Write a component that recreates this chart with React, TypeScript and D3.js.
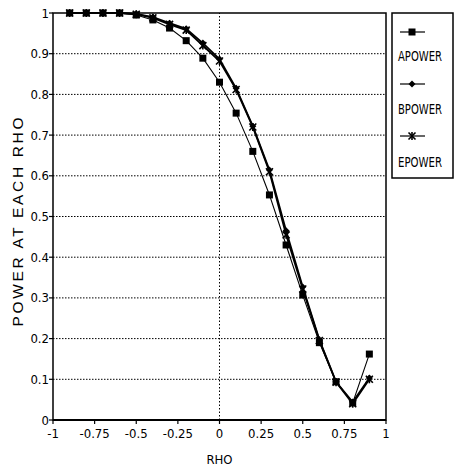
import React from 'react';
import * as d3 from 'd3';

const rho = [-0.9, -0.8, -0.7, -0.6, -0.5, -0.4, -0.3, -0.2, -0.1, 0, 0.1, 0.2, 0.3, 0.4, 0.5, 0.6, 0.7, 0.8, 0.9];
const apower = [1, 1, 1, 1, 0.995, 0.983, 0.963, 0.932, 0.889, 0.83, 0.754, 0.66, 0.553, 0.43, 0.307, 0.19, 0.094, 0.042, 0.162];
const bpower = [1, 1, 1, 1, 0.998, 0.99, 0.975, 0.961, 0.926, 0.887, 0.815, 0.722, 0.614, 0.465, 0.327, 0.197, 0.094, 0.044, 0.103];
const epower = [1, 1, 1, 1, 0.997, 0.988, 0.972, 0.958, 0.92, 0.882, 0.812, 0.72, 0.61, 0.455, 0.322, 0.195, 0.093, 0.04, 0.1];
const xTicks = [-1, -0.75, -0.5, -0.25, 0, 0.25, 0.5, 0.75, 1];
const yTicks = [0, 0.1, 0.2, 0.3, 0.4, 0.5, 0.6, 0.7, 0.8, 0.9, 1];

const font = '"DejaVu Sans Condensed", "Liberation Sans Narrow", "Liberation Sans", Arial, sans-serif';

const Marker = ({ kind, x, y }: { kind: string; x: number; y: number }) => {
  if (kind === 'square') return <rect x={x - 3.5} y={y - 3.5} width={7} height={7} fill="#000" />;
  if (kind === 'diamond')
    return <path d={`M${x},${y - 3.5}L${x + 3.5},${y}L${x},${y + 3.5}L${x - 3.5},${y}Z`} fill="#000" />;
  return (
    <g stroke="#000" strokeWidth={1.6}>
      <line x1={x - 3.5} y1={y - 3.5} x2={x + 3.5} y2={y + 3.5} />
      <line x1={x - 3.5} y1={y + 3.5} x2={x + 3.5} y2={y - 3.5} />
      <line x1={x} y1={y - 4} x2={x} y2={y + 4} />
    </g>
  );
};

const series = [
  { name: 'APOWER', values: apower, kind: 'square', width: 1.1 },
  { name: 'BPOWER', values: bpower, kind: 'diamond', width: 1.8 },
  { name: 'EPOWER', values: epower, kind: 'star', width: 1.8 },
];

export default function App() {
  const x = d3.scaleLinear().domain([-1, 1]).range([53, 386]);
  const y = d3.scaleLinear().domain([0, 1]).range([420, 13]);
  const line = d3
    .line<number>()
    .x((_, i) => x(rho[i]))
    .y((d) => y(d));
  const yFmt = (v: number) => (v === 0 || v === 1 ? String(v) : d3.format('.1f')(v));

  return (
    <svg width={456} height={471} style={{ position: 'absolute', left: 0, top: 0, background: '#fff' }}>
      {yTicks.slice(1, -1).map((t) => (
        <line key={t} x1={x(-1)} x2={x(1)} y1={y(t)} y2={y(t)} stroke="#000" strokeWidth={1} strokeDasharray="1.5,1.5" />
      ))}
      <line x1={x(0)} x2={x(0)} y1={y(0)} y2={y(1)} stroke="#000" strokeWidth={1} strokeDasharray="1.5,2" />
      <rect x={x(-1)} y={y(1)} width={x(1) - x(-1)} height={y(0) - y(1)} fill="none" stroke="#000" strokeWidth={1.5} />
      <line x1={x(-1)} x2={x(1)} y1={y(0)} y2={y(0)} stroke="#000" strokeWidth={2} />
      {yTicks.map((t) => (
        <g key={t}>
          <line x1={x(-1) - 4} x2={x(-1)} y1={y(t)} y2={y(t)} stroke="#000" strokeWidth={1.2} />
          <text x={x(-1) - 4} y={y(t) + 4.5} textAnchor="end" fontFamily={font} fontSize={13} fill="#000">
            {yFmt(t)}
          </text>
        </g>
      ))}
      {xTicks.map((t) => (
        <g key={t}>
          <line x1={x(t)} x2={x(t)} y1={y(0)} y2={y(0) + 4} stroke="#000" strokeWidth={1.2} />
          <text x={x(t)} y={y(0) + 18} textAnchor="middle" fontFamily={font} fontSize={13} fill="#000">
            {t}
          </text>
        </g>
      ))}
      <text x={x(0)} y={464} textAnchor="middle" fontFamily={font} fontSize={13} fill="#000">
        RHO
      </text>
      <text
        transform={`translate(23,${222}) rotate(-90)`}
        textAnchor="middle"
        fontFamily={'"Liberation Sans", Arial, sans-serif'}
        fontSize={15.5}
        textLength={209}
        lengthAdjust="spacing"
        fill="#000"
      >
        POWER AT EACH RHO
      </text>
      {series.map((s) => (
        <g key={s.name}>
          <path d={line(s.values) || ''} fill="none" stroke="#000" strokeWidth={s.width} />
          {s.values.map((v, i) => (
            <Marker key={i} kind={s.kind} x={x(rho[i])} y={y(v)} />
          ))}
        </g>
      ))}
      <rect x={392} y={13} width={61} height={165} fill="#fff" stroke="#000" strokeWidth={1.5} />
      {series.map((s, i) => (
        <g key={s.name}>
          <line x1={400} x2={425} y1={32 + i * 52} y2={32 + i * 52} stroke="#000" strokeWidth={1.2} />
          <Marker kind={s.kind} x={412} y={32 + i * 52} />
          <text
            x={398}
            y={61 + i * 53}
            fontFamily={font}
            fontSize={14}
            textLength={44}
            lengthAdjust="spacingAndGlyphs"
            fill="#000"
          >
            {s.name}
          </text>
        </g>
      ))}
    </svg>
  );
}
